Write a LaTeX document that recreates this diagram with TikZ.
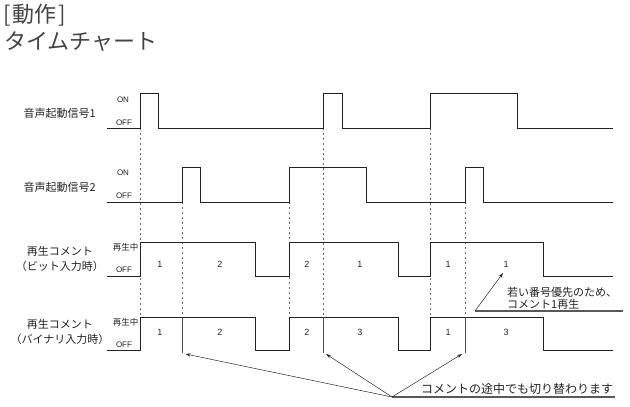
\documentclass[tikz,border=0pt]{standalone}
\usepackage{fontspec}
\setmainfont{Noto Sans CJK JP}
\newfontfamily\lat{Liberation Sans}
\usetikzlibrary{arrows.meta}
\definecolor{wave}{HTML}{222222}
\definecolor{ttl}{HTML}{444444}
\begin{document}
\begin{tikzpicture}[x=1pt,y=-1pt,
  wv/.style={draw=wave,line width=0.9pt},
  dsh/.style={draw=black!60,line width=0.6pt,dash pattern=on 2pt off 3pt},
  sol/.style={draw=black!70,line width=0.9pt},
  arr/.style={draw=black!85,line width=0.5pt,-{Stealth[length=5pt,width=3.2pt]}},
  uline/.style={draw=black!65,line width=1.1pt},
  sig/.style={font=\fontsize{11}{15}\selectfont,text=wave,inner sep=0pt,align=center},
  lvl/.style={font=\lat\fontsize{8}{9}\selectfont,text=wave,inner sep=0pt},
  lvlj/.style={font=\fontsize{8.5}{9}\selectfont,text=wave,inner sep=0pt},
  num/.style={font=\lat\fontsize{9}{10}\selectfont,text=wave,inner sep=0pt},
  note/.style={font=\fontsize{11}{12}\selectfont,text=wave,inner sep=0pt,align=left},
  ttlf/.style={font=\fontsize{22}{27}\selectfont,text=ttl,inner sep=0pt,anchor=west}
]
\useasboundingbox (0,0) rectangle (630,407);
% title
\node[ttlf] (t1) at (3,15) {[\kern2pt 動作\kern2pt ]};
\node[ttlf] (t2) at (4,42) {タイムチャート};
% signal labels
\node[sig,anchor=east] (s1) at (96,113) {音声起動信号1};
\node[sig,anchor=east] (s2) at (96,187) {音声起動信号2};
\node[sig] (s3) at (60,258.5) {再生コメント\\（ビット入力時）};
\node[sig] (s4) at (60,332) {再生コメント\\（バイナリ入力時）};
% level labels
\node[lvl] (on1) at (123,100) {ON};
\node[lvl] (off1) at (124,123) {OFF};
\node[lvl] (on2) at (123,173) {ON};
\node[lvl] (off2) at (124,196) {OFF};
\node[lvlj,anchor=east] (p3) at (138.5,247) {再生中};
\node[lvl] (off3) at (124,270) {OFF};
\node[lvlj,anchor=east] (p4) at (138.5,322) {再生中};
\node[lvl] (off4) at (124,345) {OFF};
% dashed guides
\draw[dsh] (140,128) -- (140,317);
\draw[dsh] (182,202) -- (182,317);
\draw[dsh] (289,202) -- (289,317);
\draw[dsh] (323,128) -- (323,317);
\draw[dsh] (430,128) -- (430,317);
\draw[dsh] (465,202) -- (465,317);
% waveforms
\draw[wv] (107,128) -- (140,128) -- (140,93) -- (158,93) -- (158,128) -- (323,128) -- (323,93) -- (342,93) -- (342,128) -- (430,128) -- (430,93) -- (517,93) -- (517,128) -- (613,128);
\draw[wv] (107,202) -- (182,202) -- (182,167) -- (200,167) -- (200,202) -- (289,202) -- (289,167) -- (366,167) -- (366,202) -- (465,202) -- (465,167) -- (483,167) -- (483,202) -- (613,202);
\draw[wv] (107,276) -- (140,276) -- (140,242) -- (255,242) -- (255,276) -- (289,276) -- (289,242) -- (398,242) -- (398,276) -- (430,276) -- (430,242) -- (543,242) -- (543,276) -- (613,276);
\draw[wv] (107,350) -- (140,350) -- (140,317) -- (255,317) -- (255,350) -- (289,350) -- (289,317) -- (398,317) -- (398,350) -- (430,350) -- (430,317) -- (543,317) -- (543,350) -- (613,350);
% switch lines in binary row
\coordinate (b1) at (182,317); \coordinate (b1e) at (182,353);
\coordinate (b2) at (323,317); \coordinate (b2e) at (323,353);
\coordinate (b3) at (465,317); \coordinate (b3e) at (465,353);
\draw[sol] (b1) -- (b1e);
\draw[sol] (b2) -- (b2e);
\draw[sol] (b3) -- (b3e);
% numbers
\node[num] (n31) at (160,264) {1};
\node[num] (n32) at (220,264) {2};
\node[num] (n33) at (307,264) {2};
\node[num] (n34) at (360,264) {1};
\node[num] (n35) at (448,264) {1};
\node[num] (n36) at (506,264) {1};
\node[num] (n41) at (160,332) {1};
\node[num] (n42) at (220,332) {2};
\node[num] (n43) at (307,332) {2};
\node[num] (n44) at (360,332) {3};
\node[num] (n45) at (448,332) {1};
\node[num] (n46) at (506,332) {3};
% annotation: priority
\node[note,anchor=south west] (a2) at (507,309.5) {若い番号優先のため、\\コメント1再生};
\coordinate (u2s) at (475,311);
\coordinate (u2e) at (623,311);
\draw[uline] (u2s) -- (u2e);
\draw[arr] (u2s) -- (503,273);
% annotation: switch
\node[note,anchor=south west,font=\fontsize{12}{13}\selectfont] (a1) at (421,395) {コメントの途中でも切り替わります};
\coordinate (c) at (392,397);
\coordinate (ue) at (615,397);
\draw[uline] (c) -- (ue);
\draw[arr] (c) -- (185.5,354);
\draw[arr] (c) -- (326,354);
\draw[arr] (c) -- (462,354);
\end{tikzpicture}
\end{document}
